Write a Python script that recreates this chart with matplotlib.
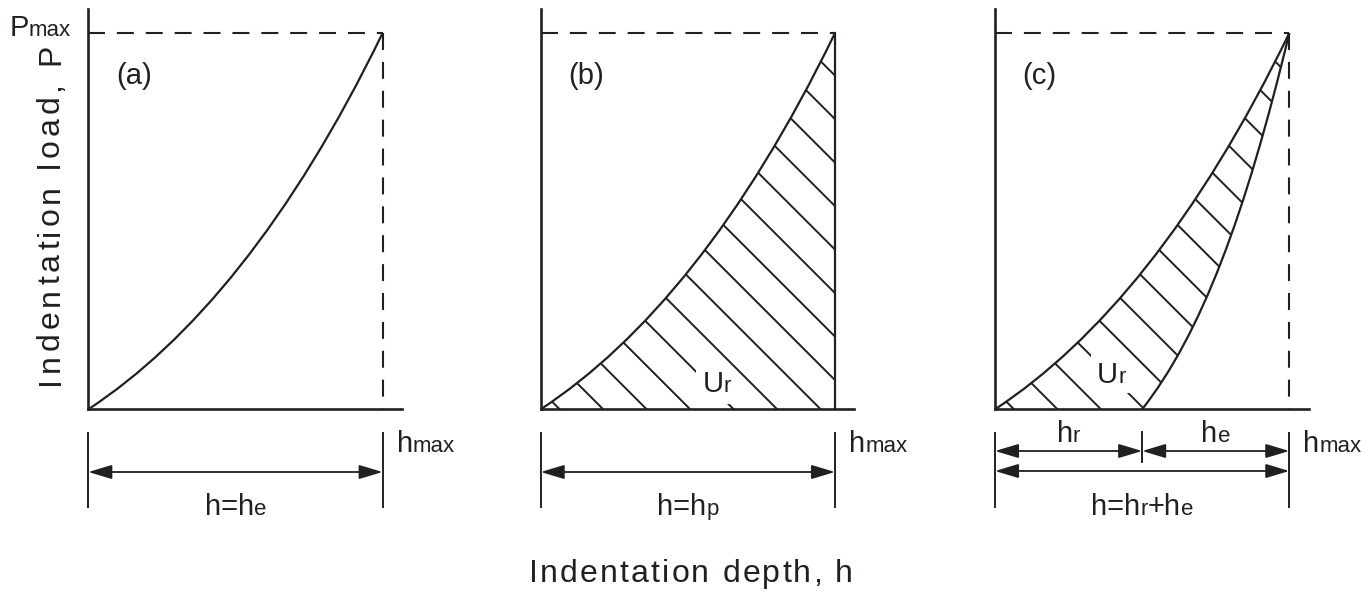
import matplotlib
matplotlib.use('Agg')
import matplotlib.pyplot as plt
from matplotlib.path import Path
from matplotlib.patches import PathPatch
from matplotlib.transforms import IdentityTransform, blended_transform_factory

plt.rcParams['font.family'] = ['Liberation Sans', 'DejaVu Sans']
plt.rcParams['lines.scale_dashes'] = False

INK = '#231f20'
W, H = 1371, 595

# load-displacement curves as cubic Bezier control points, normalised (h / h_max, P / P_max)
load_h = [0.0, 0.35, 0.69, 1.0]
load_P = [0.0, 0.18, 0.50, 1.0]
unload_h = [0.50, 0.70, 0.85, 1.0]
unload_P = [0.0, 0.20, 0.5125, 1.0]
h_max = 1.0
P_max = 1.0
h_r = 0.50

tags = ['(a)', '(b)', '(c)']
SUB = 16
BIG = 21
span_labels = [
    [('h=h', BIG), ('e', SUB)],
    [('h=h', BIG), ('p', SUB)],
    [('h=h', BIG), ('r', SUB), ('+h', BIG), ('e', SUB)],
]
ur_pos = [None, (0.55, 0.047), (0.347, 0.07)]

fig = plt.figure(figsize=(W / 100, H / 100), dpi=100)
fig.patch.set_facecolor('white')
renderer = fig.canvas.get_renderer()


def text_width(s, size):
    if not s:
        return 0.0
    probe = fig.text(0, 0, s + '|', fontsize=size, transform=IdentityTransform())
    bar = fig.text(0, 0, '|', fontsize=size, transform=IdentityTransform())
    w = probe.get_window_extent(renderer).width - bar.get_window_extent(renderer).width
    probe.remove()
    bar.remove()
    return w


def runs(x, y, parts, ha='left', track=0.0, rotation=0, box=None):
    # lay out mixed-size pieces on one baseline, optionally letter-spaced
    glyphs = []
    off = 0.0
    for s, size in parts:
        if track:
            for i, ch in enumerate(s):
                glyphs.append((off + text_width(s[:i], size) + i * track, ch, size))
            off += text_width(s, size) + len(s) * track
        else:
            glyphs.append((off, s, size))
            off += text_width(s, size)
    total = off - (track if track else 0)
    shift = {'left': 0.0, 'center': -total / 2, 'right': -total}[ha]
    # backing boxes first, so no box covers a neighbouring glyph
    passes = [('none', box, 5), (INK, None, 6)] if box else [(INK, None, 6)]
    for color, bb, z in passes:
        for o, s, size in glyphs:
            if rotation:
                px, py = x, y + o + shift
            else:
                px, py = x + o + shift, y
            fig.text(px, py, s, fontsize=size, color=color, transform=IdentityTransform(),
                     ha='left', va='baseline', rotation=rotation, rotation_mode='anchor',
                     bbox=bb, zorder=z)


def top(y):
    return H - y


def bezier(hs, Ps):
    return Path(list(zip(hs, Ps)), [Path.MOVETO, Path.CURVE4, Path.CURVE4, Path.CURVE4])


load_path = bezier(load_h, load_P)
unload_path = bezier(unload_h, unload_P)

lefts = [88.3, 540.7, 995.0]
ax_w, ax_h = 313.7, 400.3
ax_bottom = 409.3
px_per_h, px_per_P = 294.3, 376.3
dash = (0, (12.2, 8.6))

for k, x0 in enumerate(lefts):
    ax = fig.add_axes([x0 / W, (H - ax_bottom) / H, ax_w / W, ax_h / H])
    ax.set_xlim(0, ax_w / px_per_h)
    ax.set_ylim(0, ax_h / px_per_P)
    ax.set_facecolor('none')
    ax.set_xticks([])
    ax.set_yticks([])
    for side in ('top', 'right'):
        ax.spines[side].set_visible(False)
    for side in ('left', 'bottom'):
        ax.spines[side].set_linewidth(1.9)
        ax.spines[side].set_color(INK)

    ax.plot([0, h_max], [P_max, P_max], ls=dash, lw=1.5, color=INK)
    if k == 1:
        ax.plot([h_max, h_max], [0, P_max], lw=1.6, color=INK)
    else:
        ax.plot([h_max, h_max], [P_max, 0], ls=dash, lw=1.5, color=INK)

    ax.add_patch(PathPatch(load_path, fc='none', ec=INK, lw=1.6, zorder=3))
    if k == 2:
        ax.add_patch(PathPatch(unload_path, fc='none', ec=INK, lw=1.6, zorder=3))

    # hatched region: U_r
    if k > 0:
        if k == 1:
            verts = list(zip(load_h, load_P)) + [(h_max, 0.0), (0.0, 0.0)]
            codes = [Path.MOVETO] + [Path.CURVE4] * 3 + [Path.LINETO, Path.CLOSEPOLY]
        else:
            verts = (list(zip(load_h, load_P)) + list(zip(unload_h[::-1], unload_P[::-1]))[1:]
                     + [(0.0, 0.0)])
            codes = [Path.MOVETO] + [Path.CURVE4] * 6 + [Path.CLOSEPOLY]
        region = PathPatch(Path(verts, codes), transform=ax.transData)
        c = 19.0
        while c < px_per_h + px_per_P:
            ln, = ax.plot([c / px_per_h, 0], [0, c / px_per_P], lw=1.4, color=INK)
            ln.set_clip_path(region)
            c += 43.5

    # display coordinates helpers
    to_px = ax.transData.transform
    blend = blended_transform_factory(ax.transData, IdentityTransform())
    x_zero = to_px((0, 0))[0]
    x_hmax = to_px((h_max, 0))[0]
    y_pmax = to_px((0, P_max))[1]

    runs(x_zero + 27.5, top(84), [(tags[k], BIG)])
    if k == 0:
        runs(71, y_pmax - 3, [('P', BIG), ('max', SUB)], ha='right')
    runs(x_hmax + 14, top(451.7), [('h', BIG), ('max', SUB)])

    if ur_pos[k] is not None:
        ux, uy = to_px(ur_pos[k])
        runs(ux, uy, [('U', BIG), ('r', SUB)],
             box=dict(boxstyle='square,pad=0.22', fc='white', ec='none'))

    arrow = dict(arrowstyle='<|-|>,head_length=0.8,head_width=0.24', mutation_scale=18,
                 lw=1.3, color=INK, shrinkA=0, shrinkB=0)
    for t in (0.0, h_max):
        ax.plot([t, t], [top(432.5), top(507)], transform=blend, lw=1.4,
                color=INK, clip_on=False)
    if k < 2:
        ax.annotate('', xy=(h_max, top(472)), xytext=(0, top(472)), xycoords=blend,
                    textcoords=blend, arrowprops=arrow, annotation_clip=False)
    else:
        ax.plot([h_r, h_r], [top(432.3), top(462.3)], transform=blend, lw=1.4,
                color=INK, clip_on=False)
        ax.annotate('', xy=(h_r, top(451)), xytext=(0, top(451)), xycoords=blend,
                    textcoords=blend, arrowprops=arrow, annotation_clip=False)
        ax.annotate('', xy=(h_max, top(451)), xytext=(h_r, top(451)), xycoords=blend,
                    textcoords=blend, arrowprops=arrow, annotation_clip=False)
        ax.annotate('', xy=(h_max, top(471)), xytext=(0, top(471)), xycoords=blend,
                    textcoords=blend, arrowprops=arrow, annotation_clip=False)
        x_hr = to_px((h_r, 0))[0]
        runs((x_zero + x_hr) / 2, top(441.7), [('h', BIG), ('r', SUB)], ha='center')
        runs((x_hr + x_hmax) / 2, top(441.7), [('h', BIG), ('e', SUB)], ha='center')
    runs((x_zero + x_hmax) / 2, top(515), span_labels[k], ha='center')

runs(691, top(581.7), [('Indentation depth, h', 23)], ha='center', track=2.15)
runs(59, top(214), [('Indentation load, P', 23)], ha='center', track=4.1, rotation=90)

fig.savefig('out.png', dpi=100, facecolor='white')
